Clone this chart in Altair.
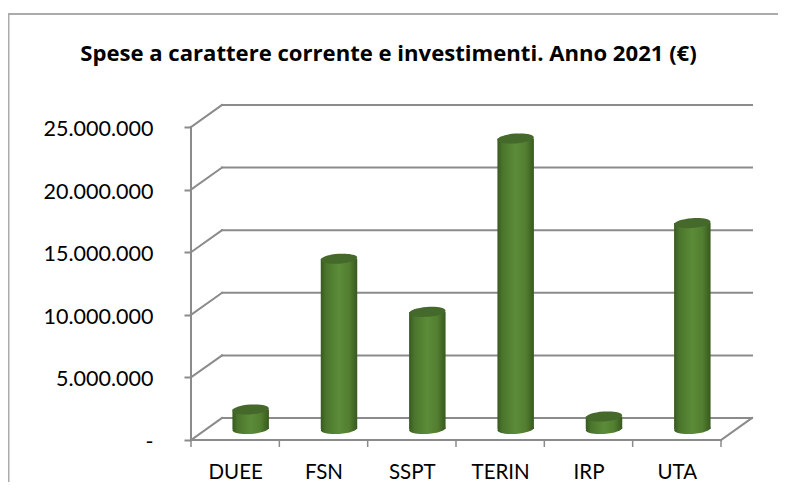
import altair as alt
import pandas as pd

TITLE = "Spese a carattere corrente e investimenti. Anno 2021 (€)"
CATEGORIES = ["DUEE", "FSN", "SSPT", "TERIN", "IRP", "UTA"]
VALUES = [1560000, 13600000, 9350000, 23200000, 1000000, 16450000]
TICKS = [0, 5000000, 10000000, 15000000, 20000000, 25000000]

# 3D box: depth of the floor in category units and in value units
DX = 0.351
DV = 1757000
BAR_W = 0.413
GRAY = "#8b8b8b"
FRAME = "#ababab"
FONT = "Lato"

W, H = 561, 335
xs = alt.Scale(domain=[0, 6 + DX], range=[0, W], nice=False, zero=False)
ys = alt.Scale(domain=[0, 25000000 + DV], range=[H, 0], nice=False, zero=False)

n = len(CATEGORIES)
bars = pd.DataFrame({
    "cat": CATEGORIES,
    "value": VALUES,
    "c": [i + 0.5 + DX / 2 for i in range(n)],
    "l": [i + 0.5 + DX / 2 - BAR_W / 2 for i in range(n)],
    "r": [i + 0.5 + DX / 2 + BAR_W / 2 for i in range(n)],
    "base": [DV / 2] * n,
    "top": [v + DV / 2 for v in VALUES],
})

lines = pd.DataFrame(
    [{"x": DX, "x2": 6 + DX, "y": t + DV, "y2": t + DV} for t in TICKS]
    + [{"x": 0, "x2": DX, "y": t, "y2": t + DV} for t in TICKS]
    + [{"x": 0, "x2": 6, "y": 0, "y2": 0},
       {"x": 6, "x2": 6 + DX, "y": 0, "y2": DV},
       {"x": 0, "x2": 0, "y": 0, "y2": 25000000}]
)

x_axis = alt.Axis(
    values=[i + 0.5 for i in range(n)],
    labelExpr="[" + ",".join(f"'{c}'" for c in CATEGORIES) + "][floor(datum.value)]",
    tickSize=0, domain=False, grid=False, labelPadding=22, labelFont=FONT,
    labelFontSize=20.5, labelColor="#000000", labelAngle=0, title=None,
)
y_axis = alt.Axis(
    values=TICKS,
    labelExpr="datum.value === 0 ? '-\u00a0\u00a0\u00a0' : replace(format(datum.value, ','), /,/g, '.')",
    tickSize=7, tickColor=GRAY, tickWidth=2, domain=False, grid=False, labelOffset=2.5,
    labelPadding=31, labelFont=FONT, labelFontSize=21.5, labelColor="#000000", title=None,
)

X = lambda f: alt.X(f, type="quantitative", scale=xs, axis=x_axis)
Y = lambda f: alt.Y(f, type="quantitative", scale=ys, axis=y_axis)

one = pd.DataFrame({"a": [0]})
frame_top = alt.Chart(one).mark_rule(color=FRAME, strokeWidth=2).encode(
    x=alt.value(-183), x2=alt.value(587), y=alt.value(-91))
frame_left = alt.Chart(one).mark_rule(color=FRAME, strokeWidth=3).encode(
    x=alt.value(-183), y=alt.value(-92), y2=alt.value(385))

grid = alt.Chart(lines).mark_rule(color=GRAY, strokeWidth=2, strokeCap="square").encode(
    x=X("x"), x2="x2", y=Y("y"), y2="y2")

ticks = alt.Chart(pd.DataFrame({"t": list(range(n + 1))})).mark_rule(color=GRAY, strokeWidth=1.5).encode(
    x=X("t"), y=alt.value(H), y2=alt.value(H + 7))

body_grad = alt.Gradient(
    gradient="linear", x1=0, x2=1, y1=0, y2=0,
    stops=[
        alt.GradientStop(color="#38591f", offset=0),
        alt.GradientStop(color="#4a752c", offset=0.14),
        alt.GradientStop(color="#5c8c38", offset=0.5),
        alt.GradientStop(color="#527e30", offset=0.78),
        alt.GradientStop(color="#38591f", offset=1),
    ],
)
ELLIPSE = "M-0.998,0.07 A1,0.27,-4,1,1,0.998,-0.07 A1,0.27,-4,1,1,-0.998,0.07 Z"

bottoms = alt.Chart(bars).mark_point(filled=True, shape=ELLIPSE, size=1332, fill=body_grad, opacity=1, strokeWidth=0).encode(
    x=X("c"), y=Y("base"))
bodies = alt.Chart(bars).mark_rect(fill=body_grad).encode(
    x=X("l"), x2="r", y=Y("base"), y2="top")
tops = alt.Chart(bars).mark_point(filled=True, shape=ELLIPSE, size=1332, fill="#44692a", opacity=1, strokeWidth=0).encode(
    x=X("c"), y=Y("top"))

chart = alt.layer(frame_top, frame_left, grid, ticks, bottoms, bodies, tops).properties(
    width=W, height=H,
    background="#ffffff",
    title=alt.TitleParams(TITLE, font="Open Sans", fontSize=22.1, fontWeight="bold", color="#000000",
                          anchor="middle", dx=-83, offset=-55),
    autosize=alt.AutoSizeParams(type="none"),
    padding={"left": 183, "top": 97, "right": 26, "bottom": 42},
).configure_view(stroke=None)

chart.save("out.html", embed_options={"renderer": "svg", "actions": False})
